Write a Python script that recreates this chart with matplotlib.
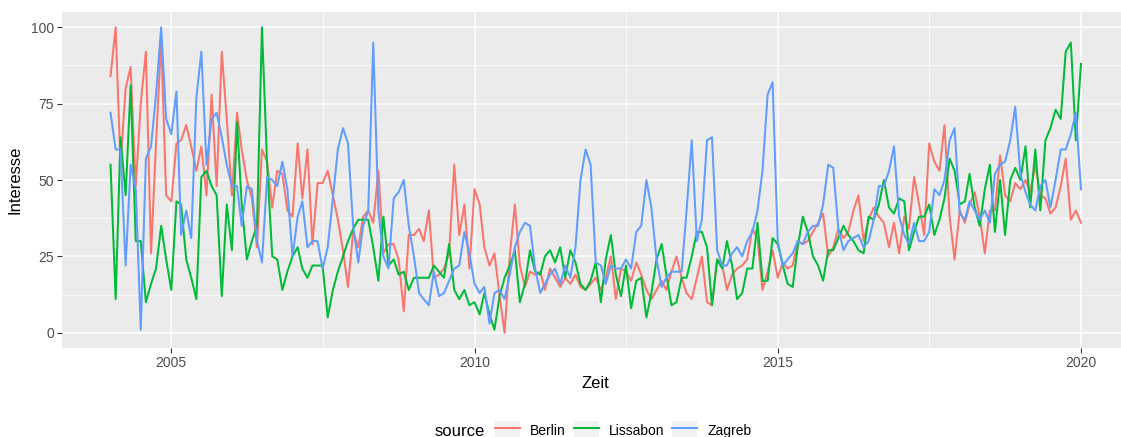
import numpy as np
import pandas as pd
import matplotlib
matplotlib.use("Agg")
import matplotlib.pyplot as plt
import matplotlib.dates as mdates
from matplotlib.lines import Line2D
from matplotlib.patches import Patch
from matplotlib.legend_handler import HandlerTuple

plt.rcParams["font.family"] = ["Liberation Sans", "DejaVu Sans"]

# monthly search interest, Jan 2004 .. Jan 2020
months = pd.date_range("2004-01-01", "2020-01-01", freq="MS")
sources = ["Berlin", "Lissabon", "Zagreb"]

berlin = [
    84, 100, 55, 80, 87, 48, 75, 92, 26, 62,
    96, 45, 43, 62, 63, 68, 61, 53, 61, 45,
    78, 48, 92, 70, 45, 72, 60, 50, 44, 28,
    60, 56, 41, 53, 52, 40, 38, 62, 44, 60,
    29, 49, 49, 53, 45, 37, 27, 15, 33, 28,
    38, 40, 36, 53, 26, 29, 29, 24, 7, 32,
    32, 34, 30, 40, 18, 19, 21, 26, 55, 32,
    42, 21, 47, 42, 28, 22, 26, 12, 0, 25,
    42, 22, 15, 20, 19, 20, 14, 21, 18, 15,
    18, 16, 19, 15, 14, 16, 18, 14, 18, 25,
    11, 21, 20, 17, 23, 19, 14, 11, 14, 17,
    14, 20, 25, 18, 13, 11, 18, 25, 10, 9,
    24, 22, 14, 19, 21, 22, 24, 34, 31, 14,
    20, 27, 18, 23, 21, 22, 30, 29, 30, 33,
    36, 39, 25, 28, 34, 31, 33, 40, 45, 30,
    37, 41, 38, 36, 28, 36, 26, 38, 34, 51,
    42, 32, 62, 56, 53, 68, 38, 24, 40, 36,
    42, 46, 38, 26, 40, 40, 58, 45, 43, 49,
    47, 50, 46, 55, 45, 44, 39, 41, 48, 57,
    37, 40, 36,
]
lissabon = [
    55, 11, 64, 45, 81, 30, 30, 10, 16, 21,
    35, 24, 14, 43, 42, 24, 18, 11, 51, 53,
    48, 45, 12, 42, 27, 69, 42, 24, 30, 35,
    100, 55, 25, 24, 14, 20, 25, 28, 21, 18,
    22, 22, 22, 5, 14, 20, 25, 30, 34, 37,
    37, 37, 28, 17, 38, 22, 24, 19, 20, 14,
    18, 18, 18, 18, 22, 20, 18, 29, 14, 11,
    14, 9, 10, 6, 13, 6, 1, 12, 18, 22,
    27, 10, 16, 27, 20, 19, 25, 27, 23, 28,
    18, 27, 23, 16, 14, 17, 23, 10, 24, 32,
    19, 12, 22, 8, 17, 18, 5, 13, 24, 29,
    19, 9, 10, 18, 18, 25, 33, 33, 28, 9,
    24, 21, 30, 22, 11, 13, 21, 21, 36, 17,
    17, 31, 29, 22, 16, 15, 28, 38, 33, 25,
    22, 17, 27, 27, 31, 35, 32, 30, 27, 26,
    38, 37, 42, 50, 41, 39, 44, 43, 27, 33,
    38, 38, 42, 32, 37, 44, 57, 53, 42, 43,
    52, 41, 35, 47, 55, 33, 50, 32, 50, 54,
    50, 61, 41, 60, 40, 63, 67, 73, 70, 92,
    95, 63, 88,
]
zagreb = [
    72, 60, 60, 22, 55, 47, 1, 57, 61, 78,
    100, 70, 65, 79, 32, 40, 31, 77, 92, 55,
    70, 72, 64, 55, 48, 48, 35, 48, 47, 30,
    23, 51, 50, 48, 56, 47, 25, 38, 43, 28,
    30, 30, 21, 28, 44, 60, 67, 62, 35, 23,
    35, 40, 95, 40, 25, 21, 44, 46, 50, 35,
    25, 13, 11, 9, 20, 12, 13, 17, 21, 22,
    33, 26, 16, 13, 15, 3, 13, 14, 11, 19,
    28, 33, 36, 35, 21, 13, 16, 19, 21, 16,
    22, 18, 28, 50, 60, 55, 23, 22, 16, 22,
    21, 21, 24, 21, 33, 35, 50, 41, 24, 15,
    18, 20, 20, 20, 40, 63, 30, 37, 63, 64,
    27, 22, 22, 26, 28, 25, 30, 33, 40, 53,
    78, 82, 30, 22, 24, 26, 30, 29, 33, 35,
    35, 42, 55, 54, 34, 27, 30, 31, 32, 28,
    30, 37, 48, 48, 53, 61, 38, 32, 29, 36,
    30, 30, 33, 47, 45, 50, 63, 67, 39, 37,
    43, 40, 37, 40, 36, 52, 55, 56, 63, 74,
    52, 46, 42, 40, 48, 50, 41, 50, 60, 60,
    65, 72, 47,
]
colors = ["#F8766D", "#00BA38", "#619CFF"]

fig = plt.figure(figsize=(11.21, 4.37), dpi=100)
# panel runs past the right edge (reference is cropped there)
ax = fig.add_axes([62 / 1121, 89 / 437, 1067.5 / 1121, 336 / 437])
ax.set_facecolor("#EBEBEB")
for s in ax.spines.values():
    s.set_visible(False)

for name, vals, c in zip(sources, [berlin, lissabon, zagreb], colors):
    ax.plot(months, vals, color=c, linewidth=1.45, label=name, zorder=3)

x0, x1 = mdates.date2num(months[0]), mdates.date2num(months[-1])
span = x1 - x0
ax.set_xlim(x0 - 0.05 * span, x1 + 0.05 * span)
ax.set_ylim(-5, 105)

ax.set_xticks([pd.Timestamp(f"{y}-01-01") for y in (2005, 2010, 2015, 2020)])
ax.set_xticks([pd.Timestamp(f"{y}-07-02") for y in (2007, 2012, 2017)], minor=True)
ax.xaxis.set_major_formatter(mdates.DateFormatter("%Y"))
ax.set_yticks([0, 25, 50, 75, 100])
ax.set_yticks([12.5, 37.5, 62.5, 87.5], minor=True)

ax.grid(which="major", color="white", linewidth=1.1, zorder=1)
ax.grid(which="minor", color="white", linewidth=0.55, zorder=1)
ax.set_axisbelow(True)
ax.tick_params(which="major", length=3.3, width=0.8, color="#333333",
               labelcolor="#4D4D4D", labelsize=10, pad=2.5)
ax.tick_params(which="minor", length=0)

ax.set_xlabel("Zeit", fontsize=12, labelpad=4)
ax.set_ylabel("Interesse", fontsize=12, labelpad=6)

handles = [(Patch(facecolor="#F2F2F2", edgecolor="none"),
            Line2D([], [], color=c, linewidth=1.45)) for c in colors]
fig.text(435 / 1121, 1 - 431 / 437, "source", fontsize=12, va="center", ha="left")
fig.legend(handles, sources, loc="center left", bbox_to_anchor=(495 / 1121, 1 - 431 / 437),
           ncol=3, frameon=False, fontsize=10, handlelength=1.8, handleheight=1.8,
           handletextpad=0.7, columnspacing=0.6, borderpad=0, borderaxespad=0,
           handler_map={tuple: HandlerTuple(ndivide=1, pad=0)})

fig.savefig("out.png", dpi=100)
